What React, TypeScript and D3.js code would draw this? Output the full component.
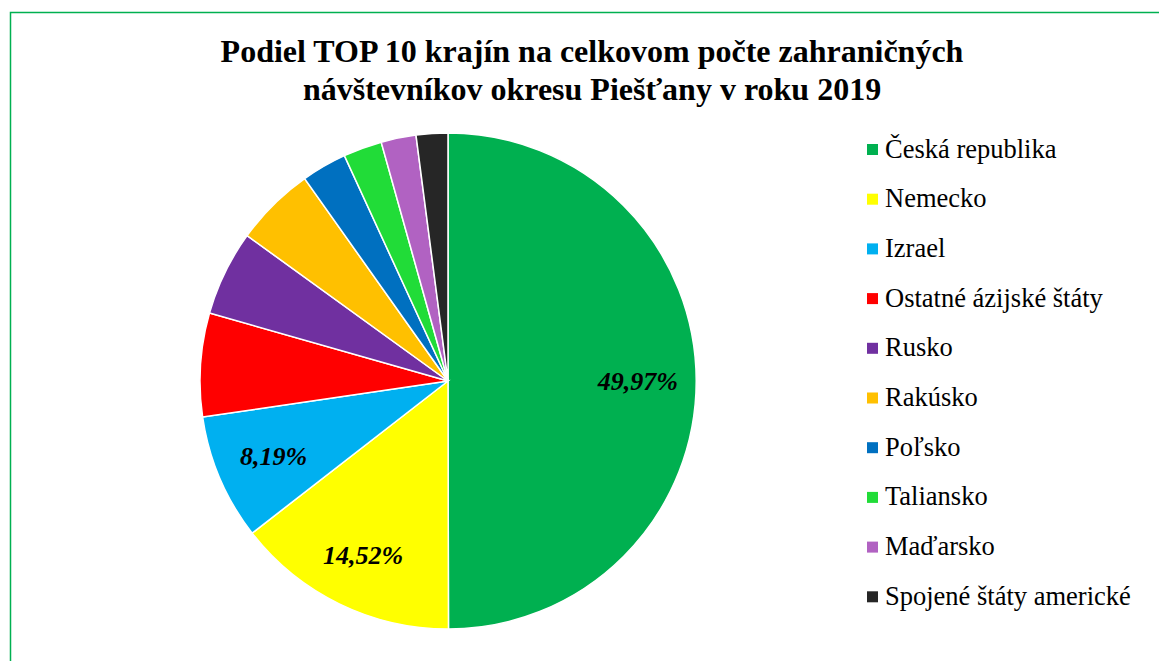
import React from "react";
import * as d3 from "d3";

const categories = [
  "Česká republika",
  "Nemecko",
  "Izrael",
  "Ostatné ázijské štáty",
  "Rusko",
  "Rakúsko",
  "Poľsko",
  "Taliansko",
  "Maďarsko",
  "Spojené štáty americké",
];
const values = [49.97, 14.52, 8.19, 6.74, 5.55, 5.22, 2.95, 2.52, 2.28, 2.06];
const colors = [
  "#00B050",
  "#FFFF00",
  "#00B0F0",
  "#FF0000",
  "#7030A0",
  "#FFC000",
  "#0070C0",
  "#21DC38",
  "#B162C2",
  "#262626",
];
const shownLabels = ["49,97%", "14,52%", "8,19%"];
const titleLines = [
  "Podiel TOP 10 krajín na celkovom počte zahraničných",
  "návštevníkov okresu Piešťany v roku 2019",
];

export default function App() {
  const W = 1159;
  const H = 661;
  const cx = 448;
  const cy = 381;
  const r = 248;
  const data = categories.map((c, i) => ({ c, v: values[i], color: colors[i], i }));
  const pie = d3.pie<any>().value((d) => d.v).sort(null);
  const arcs = pie(data);
  const arc = d3.arc<any>().innerRadius(0).outerRadius(r);
  const labelRatios = [0.765, 0.78, 0.765];
  const font = "'Liberation Serif', 'Times New Roman', serif";
  const legendX = 867;
  const legendY0 = 149.5;
  const legendStep = 49.7;

  return (
    <svg
      width={W}
      height={H}
      style={{ position: "absolute", left: 0, top: 0, background: "#fff" }}
      fontFamily={font}
    >
      <rect x={10.5} y={12.5} width={W + 10} height={H + 10} fill="none" stroke="#00B050" strokeWidth={1.5} />
      {titleLines.map((t, i) => (
        <text
          key={i}
          x={592}
          y={62 + i * 38}
          textAnchor="middle"
          fontSize={32}
          fontWeight="bold"
          fill="#000"
        >
          {t}
        </text>
      ))}
      <g transform={`translate(${cx},${cy})`}>
        {arcs.map((a, i) => (
          <path key={i} d={arc(a) as string} fill={a.data.color} stroke="#fff" strokeWidth={1.5} />
        ))}
        {shownLabels.map((lab, i) => {
          const k = r * labelRatios[i];
          const p = d3.arc<any>().innerRadius(k).outerRadius(k).centroid(arcs[i]);
          return (
            <text
              key={i}
              x={p[0]}
              y={p[1]}
              dy="0.35em"
              textAnchor="middle"
              fontSize={26}
              fontWeight="bold"
              fontStyle="italic"
              fill="#000"
            >
              {lab}
            </text>
          );
        })}
      </g>
      {categories.map((c, i) => (
        <g key={i} transform={`translate(${legendX},${legendY0 + i * legendStep})`}>
          <rect x={0} y={-5.5} width={11} height={11} fill={colors[i]} />
          <text x={18} y={8} fontSize={26.5} fill="#000">
            {c}
          </text>
        </g>
      ))}
    </svg>
  );
}
